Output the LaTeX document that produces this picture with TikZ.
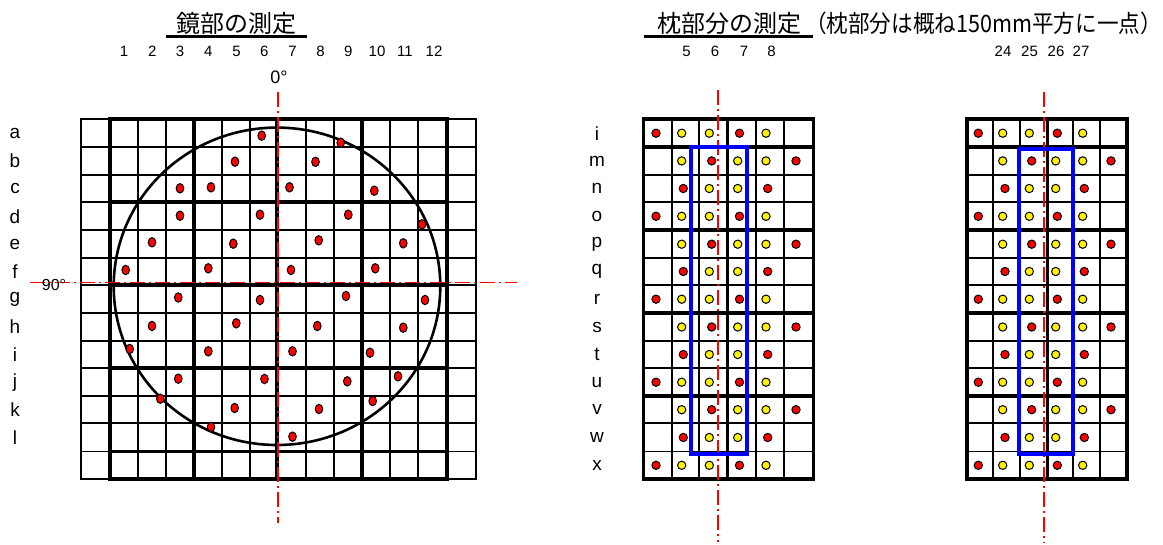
\documentclass[tikz,border=0pt]{standalone}
\usepackage{fontspec}
\setmainfont{Liberation Sans}
\newfontfamily\jpfont{Noto Sans CJK JP}
\usetikzlibrary{shapes.geometric}
\begin{document}
\begin{tikzpicture}[x=1pt,y=-1pt,
  gthin/.style={line width=1.7pt, line cap=rect},
  gthick/.style={line width=3.6pt, line cap=rect},
  axisline/.style={red, line width=1.8pt, dash pattern=on 15pt off 4pt on 2pt off 4pt},
  bluebox/.style={blue, line width=4pt},
  ldot/.style={ellipse, draw=black, fill=red, line width=1pt, minimum width=7.6pt, minimum height=9.4pt, inner sep=0pt},
  reddot/.style={circle, draw=black, fill=red, line width=1pt, minimum size=8.3pt, inner sep=0pt},
  yellowdot/.style={circle, draw=black, fill=yellow, line width=1pt, minimum size=8.3pt, inner sep=0pt},
  lbl/.style={font=\fontsize{19}{19}\selectfont, inner sep=0pt},
  num/.style={font=\fontsize{15}{15}\selectfont, inner sep=0pt},
  ttl/.style={font=\jpfont\fontsize{24}{24}\selectfont, inner sep=0pt}
]
\useasboundingbox (0,0) rectangle (1163,545);

% ---------- titles ----------
\node[ttl] (t1) at (236,23) {鏡部の測定};
\draw[line width=2.6pt] (166,36.5) -- (307.3,36.5);
\node[ttl] (t2) at (729,23) {枕部分の測定};
\draw[line width=2.6pt] (644,36.7) -- (813,36.7);
\node[ttl, anchor=west, xscale=0.9] (t3) at (805,23) {（枕部分は概ね150mm平方に一点）};

% ---------- left grid ----------
\foreach \xx in {81,110,138,166,194,222,250,277,306,334,362,390,418,447,476}
  \draw[gthin] (\xx,119.3) -- (\xx,479);
\foreach \yy in {119.3,147,174.7,202.3,230.3,258,285,313.3,340.7,368.3,396,423.3,451.6,479}
  \draw[gthin] (81,\yy) -- (476,\yy);
\foreach \xx in {110,194,277,362,447}
  \draw[gthick] (\xx,119.3) -- (\xx,479);
\foreach \yy in {119.3,202.3,285,368.3,451.6,479}
  \draw[gthick] (110,\yy) -- (447,\yy);

\draw[line width=2.6pt] (277,286.3) ellipse [x radius=163.3pt, y radius=158.7pt];

% column / row labels
\foreach \n/\xx in {1/124,2/152.3,3/180,4/208.3,5/236.5,6/264.3,7/292.5,8/320.5,9/348.3,10/377,11/405,12/434}
  \node[num] (lc\n) at (\xx,51.7) {\n};
\foreach \l/\yy in {a/133.2,b/160.9,c/188.5,d/216.3,e/244.2,f/271.5,g/299.2,h/327,i/354.5,j/382.2,k/409.7,l/437.5}
  \node[lbl] (lr\l) at (15,\yy) {\l};

% axes
\coordinate (la1) at (277.6,92);
\coordinate (la2) at (277.6,523);
\coordinate (lb1) at (30,282.6);
\coordinate (lb2) at (517,282.6);
\draw[axisline] (la1) -- (la2);
\draw[axisline] (lb1) -- (lb2);
\node[font=\fontsize{18}{18}\selectfont, inner sep=0pt] (deg0) at (279,77) {0°};
\node[font=\fontsize{16}{16}\selectfont, inner sep=0pt] (deg90) at (54,284.5) {90°};

% dots
\foreach \xx/\yy [count=\i] in {261.7/135.7,340.7/142.7,235/161.7,315.5/161.8,
  180/188.3,211/187.3,289.5/187.3,374.3/190.7,
  180/215.7,260/214.7,348.3/214.7,422/224.3,
  152/242.3,233.3/243.7,318.7/240.3,403.3/243.3,
  125.7/270,208.3/268.3,291/270,375.3/268.3,
  178.3/297.5,260/300,346/296,425/300,
  152/326,236.3/323.3,317.3/326,403.3/327.7,
  129.7/349,208.3/351.3,292.5/351.3,370/352.7,
  178.3/378.7,264.5/379,347.3/381.3,398/376.3,
  160.3/398.7,234.7/408,319/409,372.7/401,
  211/427,292.5/436.7}
  \node[ldot] (ld\i) at (\xx,\yy) {};

% ---------- middle grid ----------
\foreach \xx in {643.3,671.7,699.3,727.3,755.7,784,813.3}
  \draw[gthin] (\xx,119.3) -- (\xx,479);
\foreach \yy in {119.3,147,174.7,202.3,230.3,258,285,313.3,340.7,368.3,396,423.3,451.6,479}
  \draw[gthin] (643.3,\yy) -- (813.3,\yy);
\foreach \xx in {643.3,727.3,813.3}
  \draw[gthick] (\xx,119.3) -- (\xx,479);
\foreach \yy in {119.3,147,230.3,313.3,396,479}
  \draw[gthick] (643.3,\yy) -- (813.3,\yy);

\foreach \n/\xx in {5/686.5,6/715,7/744,8/771.5}
  \node[num] (mc\n) at (\xx,51.7) {\n};
\foreach \l/\yy in {i/133.2,m/160.9,n/188.5,o/216.3,p/244.2,q/271.5,r/299.2,s/327,t/354.5,u/382.2,v/409.7,w/437.5,x/465.3}
  \node[lbl] (mr\l) at (597,\yy) {\l};

\coordinate (ma1) at (718.3,90);
\coordinate (ma2) at (718.3,542);
\draw[axisline] (ma1) -- (ma2);
\draw[bluebox] (690.7,147.3) rectangle (746.7,454.3);

\foreach \yy [count=\r] in {133.2,216.3,299.2,382.2,465.3}
  \foreach \xx/\cc [count=\j] in {656/reddot,681.7/yellowdot,709.3/yellowdot,739.5/reddot,766/yellowdot}
    \node[\cc] (mA-\r-\j) at (\xx,\yy) {};
\foreach \yy [count=\r] in {160.9,244.2,327,409.7}
  \foreach \xx/\cc [count=\j] in {681.7/yellowdot,711.7/reddot,737.7/yellowdot,766/yellowdot,796/reddot}
    \node[\cc] (mB-\r-\j) at (\xx,\yy) {};
\foreach \yy [count=\r] in {188.5,271.5,354.5,437.5}
  \foreach \xx/\cc [count=\j] in {683.3/reddot,709.3/yellowdot,737.7/yellowdot,767.7/reddot}
    \node[\cc] (mC-\r-\j) at (\xx,\yy) {};

% ---------- right grid ----------
\foreach \xx in {966.7,993.3,1020,1047.3,1073.3,1100,1126.7}
  \draw[gthin] (\xx,119.3) -- (\xx,479);
\foreach \yy in {119.3,147,174.7,202.3,230.3,258,285,313.3,340.7,368.3,396,423.3,451.6,479}
  \draw[gthin] (966.7,\yy) -- (1126.7,\yy);
\foreach \xx in {966.7,1047.3,1126.7}
  \draw[gthick] (\xx,119.3) -- (\xx,479);
\foreach \yy in {119.3,147,230.3,313.3,396,479}
  \draw[gthick] (966.7,\yy) -- (1126.7,\yy);

\foreach \n/\xx in {24/1003,25/1029.5,26/1056,27/1081}
  \node[num] (rc\n) at (\xx,51.7) {\n};

\coordinate (ra1) at (1044.3,92);
\coordinate (ra2) at (1044.3,543);
\draw[axisline] (ra1) -- (ra2);
\draw[bluebox] (1019,149) rectangle (1073.3,454);

\foreach \yy [count=\r] in {133.2,216.3,299.2,382.2,465.3}
  \foreach \xx/\cc [count=\j] in {978.3/reddot,1002.7/yellowdot,1029.3/yellowdot,1057.3/reddot,1082.7/yellowdot}
    \node[\cc] (rA-\r-\j) at (\xx,\yy) {};
\foreach \yy [count=\r] in {160.9,244.2,327,409.7}
  \foreach \xx/\cc [count=\j] in {1002.7/yellowdot,1031.7/reddot,1055.7/yellowdot,1082.7/yellowdot,1111/reddot}
    \node[\cc] (rB-\r-\j) at (\xx,\yy) {};
\foreach \yy [count=\r] in {188.5,271.5,354.5,437.5}
  \foreach \xx/\cc [count=\j] in {1005/reddot,1029.3/yellowdot,1055.7/yellowdot,1084.3/reddot}
    \node[\cc] (rC-\r-\j) at (\xx,\yy) {};
\end{tikzpicture}
\end{document}
